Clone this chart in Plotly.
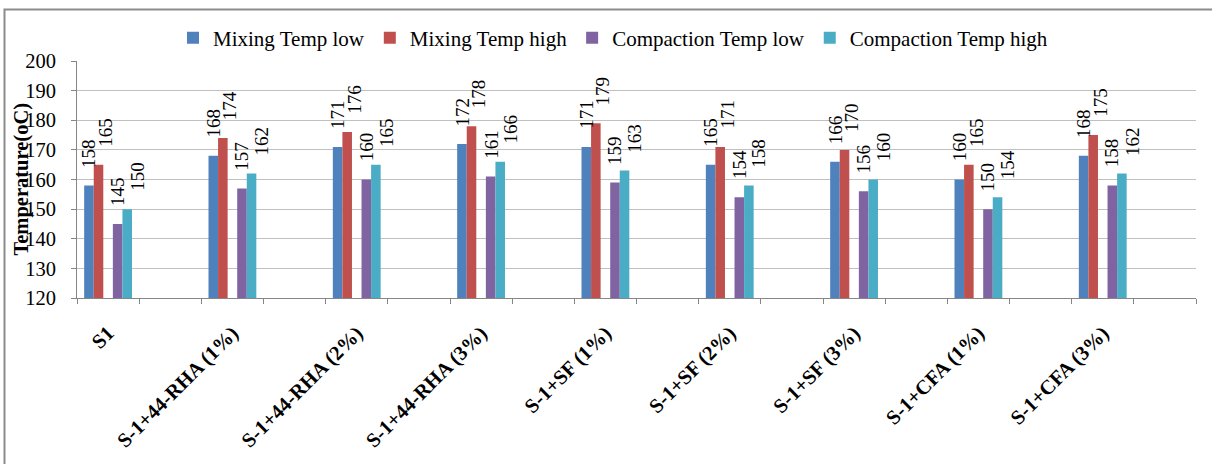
import plotly.graph_objects as go

# Mixes along the x axis
categories = ["S1", "S-1+44-RHA (1%)", "S-1+44-RHA (2%)", "S-1+44-RHA (3%)",
              "S-1+SF (1%)", "S-1+SF (2%)", "S-1+SF (3%)",
              "S-1+CFA (1%)", "S-1+CFA (3%)"]

# Temperatures (°C) per mix
mixing_low = [158, 168, 171, 172, 171, 165, 166, 160, 168]
mixing_high = [165, 174, 176, 178, 179, 171, 170, 165, 175]
compaction_low = [145, 157, 160, 161, 159, 154, 156, 150, 158]
compaction_high = [150, 162, 165, 166, 163, 158, 160, 154, 162]

y_ticks = [120, 130, 140, 150, 160, 170, 180, 190, 200]

SERIF = "Liberation Serif"

# Each mix sits in every other slot of the category band; the slot in
# between is left empty. Within a slot, five bar positions (gap 150%),
# the middle one unused.
n_slots = 2 * len(categories)
xc = [2 * i for i in range(len(categories))]
bw = 1 / 6.5

series = [
    ("Mixing Temp low", mixing_low, "#4F81BD", -2.5 * bw, 0),
    ("Mixing Temp high", mixing_high, "#C0504D", -1.5 * bw, 7),
    ("Compaction Temp low", compaction_low, "#8064A2", 0.5 * bw, 0),
    ("Compaction Temp high", compaction_high, "#4BACC6", 1.5 * bw, 10),
]

fig = go.Figure()
annotations = []
for name, vals, color, off, dx in series:
    fig.add_trace(go.Bar(
        x=xc, y=vals, name=name, base=0,
        offset=off, width=bw,
        marker=dict(color=color, line=dict(width=0)),
    ))
    for x, v in zip(xc, vals):
        annotations.append(dict(
            x=x + off + bw / 2, y=v, xref="x", yref="y",
            text=str(v), showarrow=False, textangle=-90,
            xanchor="center", yanchor="bottom", yshift=16, xshift=dx,
            font=dict(family=SERIF, size=19, color="black"),
        ))

annotations.append(dict(
    x=-0.05, y=0.5, xref="paper", yref="paper",
    text="<b>Temperature(oC)</b>", showarrow=False, textangle=-90,
    xanchor="center", yanchor="middle",
    font=dict(family=SERIF, size=20.5, color="black"),
))

boundaries = [k - 0.5 for k in range(n_slots + 1)]

# Chart-area frame: left and top edges, running to the page edges
frame = "M -0.0648,-0.70 L -0.0648,1.2173 L 1.0143,1.2173"

fig.update_layout(
    width=1212, height=464,
    margin=dict(l=77, r=16, t=61, b=166),
    paper_bgcolor="white", plot_bgcolor="white",
    barmode="overlay",
    showlegend=True,
    legend=dict(
        orientation="h", x=0.479, y=1.097, xanchor="center", yanchor="middle",
        font=dict(family=SERIF, size=21, color="black"),
        itemwidth=30, traceorder="normal",
    ),
    annotations=annotations,
    shapes=[dict(
        type="path", xref="paper", yref="paper", path=frame,
        line=dict(color="#8C8C8C", width=2), layer="below",
    )],
    xaxis=dict(
        range=[-0.5, n_slots - 0.5],
        tickvals=xc, ticktext=[f"<b>{c}</b>" for c in categories],
        tickangle=-45, ticks="", ticklabelstandoff=14,
        tickfont=dict(family=SERIF, size=20.5, color="black"),
        showgrid=False, zeroline=False,
        showline=True, linecolor="#868686", linewidth=1,
        minor=dict(tickvals=boundaries, ticks="outside", ticklen=5,
                   tickcolor="#868686", showgrid=False),
    ),
    yaxis=dict(
        range=[120, 200], tickvals=y_ticks,
        ticks="outside", ticklen=5, tickcolor="#868686",
        ticklabelstandoff=11,
        tickfont=dict(family=SERIF, size=20.5, color="black"),
        showgrid=True, gridcolor="#C0C0C0", gridwidth=1,
        zeroline=False, showline=True, linecolor="#868686", linewidth=1,
    ),
)

fig.write_html("out.html")
